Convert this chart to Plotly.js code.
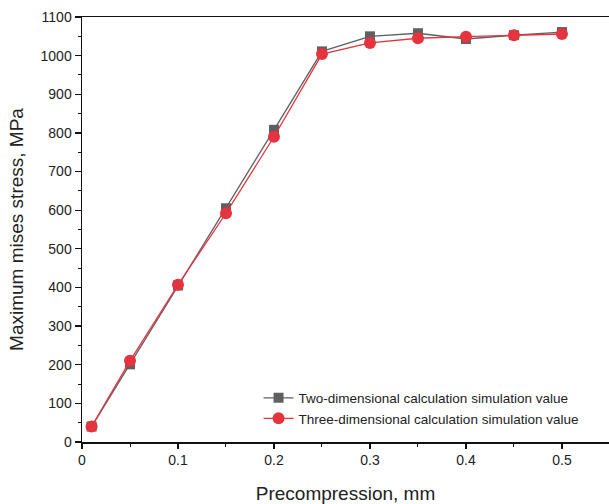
<!DOCTYPE html>
<html>
<head>
<meta charset="utf-8">
<script src="https://cdn.plot.ly/plotly-3.0.1.min.js"></script>
<style>html,body{margin:0;padding:0;background:#fff;}#chart{width:609px;height:504px;}</style>
</head>
<body>
<div id="chart"></div>
<script>
const precompression = [0.01, 0.05, 0.1, 0.15, 0.2, 0.25, 0.3, 0.35, 0.4, 0.45, 0.5];
const twoDim = [40, 201, 405, 605, 808, 1011, 1050, 1058, 1043, 1053, 1061];
const threeDim = [40, 210, 407, 592, 790, 1004, 1033, 1045, 1049, 1053, 1056];
const seriesNames = ["Two-dimensional calculation simulation value", "Three-dimensional calculation simulation value"];

const traces = [
  {x: precompression, y: twoDim, name: seriesNames[0], mode: 'lines+markers',
   line: {color: '#606060', width: 1.3}, marker: {symbol: 'square', size: 10, color: '#606060'}},
  {x: precompression, y: threeDim, name: seriesNames[1], mode: 'lines+markers',
   line: {color: '#e5333f', width: 1.3}, marker: {symbol: 'circle', size: 12, color: '#e5333f'}}
];

const layout = {
  width: 609, height: 504,
  margin: {l: 82, r: 0, t: 17, b: 62},
  paper_bgcolor: '#fff', plot_bgcolor: '#fff',
  font: {family: 'Liberation Sans, Arial, sans-serif', color: '#222', size: 14},
  showlegend: true,
  legend: {x: 0.335, y: 0.14, xanchor: 'left', yanchor: 'top', bgcolor: 'rgba(0,0,0,0)',
           font: {size: 13.5, color: '#222'}, tracegroupgap: 0},
  xaxis: {
    range: [0, 0.549], tickvals: [0, 0.1, 0.2, 0.3, 0.4, 0.5], ticktext: ['0','0.1','0.2','0.3','0.4','0.5'],
    showline: true, linecolor: '#111', linewidth: 1.5, mirror: true,
    ticks: 'outside', ticklen: 5, tickwidth: 1.2, tickcolor: '#111',
    minor: {dtick: 0.05, tick0: 0, ticks: 'outside', ticklen: 3, tickcolor: '#111', tickwidth: 1},
    showgrid: false, zeroline: false,
    tickfont: {size: 14, color: '#222'},
    title: {text: 'Precompression, mm', font: {size: 19, color: '#222'}, standoff: 20}
  },
  yaxis: {
    range: [0, 1100], dtick: 100,
    showline: true, linecolor: '#111', linewidth: 1.5, mirror: true,
    ticks: 'outside', ticklen: 6, tickwidth: 1.2, tickcolor: '#111',
    minor: {dtick: 50, ticks: 'outside', ticklen: 3, tickcolor: '#111', tickwidth: 1},
    showgrid: false, zeroline: false,
    tickfont: {size: 14, color: '#222'},
    title: {text: 'Maximum mises stress, MPa', font: {size: 19, color: '#222'}, standoff: 12}
  }
};

Plotly.newPlot('chart', traces, layout, {displayModeBar: false, staticPlot: true});
</script>
</body>
</html>
